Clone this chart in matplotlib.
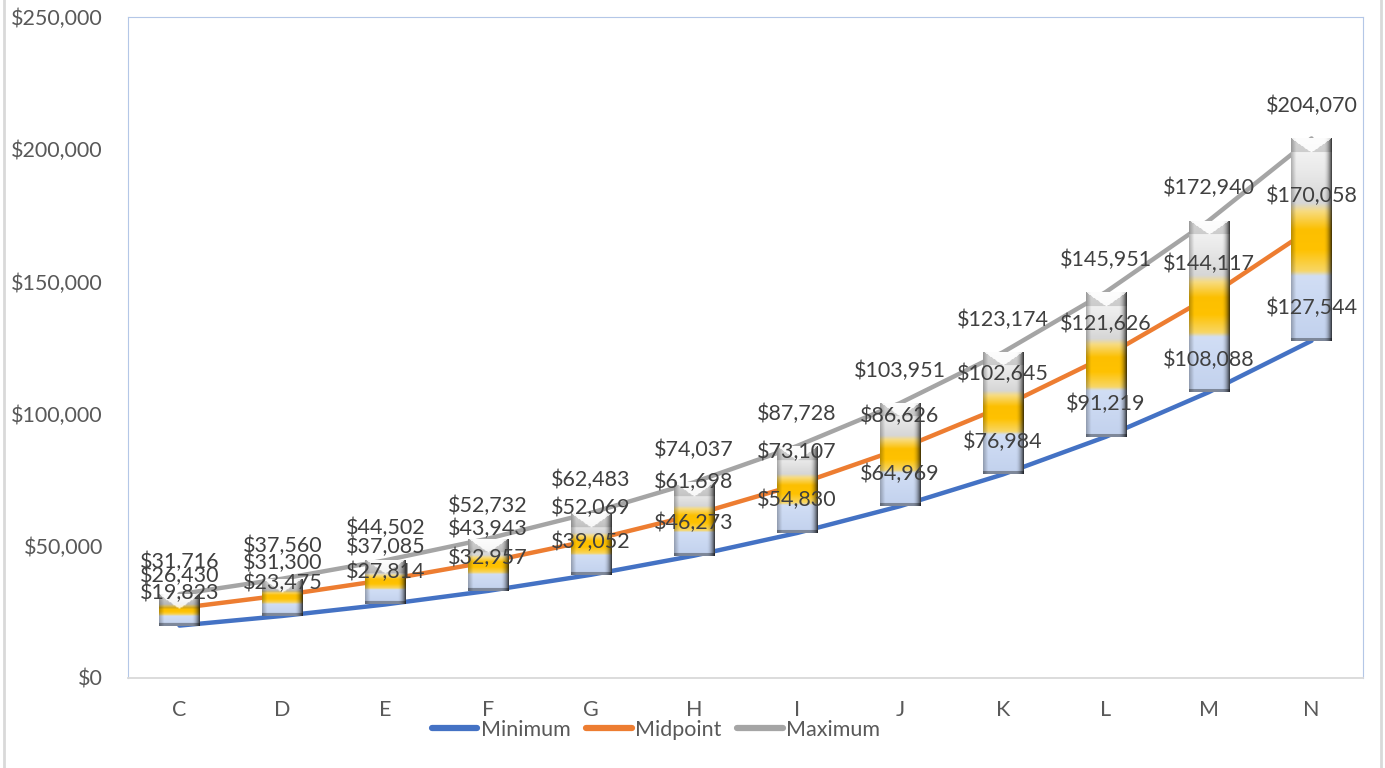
import numpy as np
import matplotlib.pyplot as plt
from matplotlib.lines import Line2D

plt.rcParams["font.family"] = ["Lato", "DejaVu Sans"]

grades = ["C", "D", "E", "F", "G", "H", "I", "J", "K", "L", "M", "N"]
minimum = [19823, 23475, 27814, 32957, 39052, 46273, 54830, 64969, 76984, 91219, 108088, 127544]
midpoint = [26430, 31300, 37085, 43943, 52069, 61698, 73107, 86626, 102645, 121626, 144117, 170058]
maximum = [31716, 37560, 44502, 52732, 62483, 74037, 87728, 103951, 123174, 145951, 172940, 204070]

series = [
    ("Minimum", minimum, "#4472c4"),
    ("Midpoint", midpoint, "#ed7d31"),
    ("Maximum", maximum, "#a5a5a5"),
]

# vertical colour stops for the bar fill (fraction of bar height, rgb)
stops = [
    (0.00, (0.76, 0.82, 0.93)),
    (0.32, (0.82, 0.87, 0.96)),
    (0.345, (0.97, 0.84, 0.40)),
    (0.45, (1.00, 0.76, 0.00)),
    (0.55, (0.99, 0.75, 0.00)),
    (0.64, (0.97, 0.86, 0.50)),
    (0.68, (0.84, 0.84, 0.84)),
    (0.85, (0.92, 0.92, 0.92)),
    (1.00, (0.97, 0.97, 0.97)),
]


def bar_image(h_px, w_px):
    rows = max(int(h_px), 4)
    cols = max(int(w_px), 4)
    f = np.linspace(1, 0, rows)  # top row first
    pos = [s[0] for s in stops]
    img = np.zeros((rows, cols, 3))
    for k in range(3):
        col = np.interp(f, pos, [s[1][k] for s in stops])
        img[:, :, k] = col[:, None]
    x = np.linspace(0, 1, cols)
    shade = 1 - 0.7 * np.clip((x - 0.8) / 0.2, 0, 1) ** 2 - 0.25 * np.clip((0.12 - x) / 0.12, 0, 1)
    img *= shade[None, :, None]
    # top bevel (V shape)
    b = min(14, rows // 2)
    u = np.abs(x - 0.5) / 0.5
    for r in range(b):
        top = r < b * (1 - u)
        img[r, top] = img[r, top] * 0.3 + 0.7
        img[r, ~top] *= 0.85
    img[-3:, :] *= 0.65
    return np.clip(img, 0, 1)


fig = plt.figure(figsize=(13.85, 7.68), dpi=100)
ax = fig.add_axes([128 / 1385, 90 / 768, 1235 / 1385, 661 / 768])
xs = np.arange(len(grades))
ax.set_xlim(-0.5, len(grades) - 0.5)
ax.set_ylim(0, 250000)

for name, vals, color in series:
    ax.plot(xs, vals, color=color, lw=3.2, solid_capstyle="round", label=name, zorder=2)

heights = [mx - mn for mn, mx in zip(minimum, maximum)]
bars = ax.bar(xs, heights, bottom=minimum, width=0.39, color="none", zorder=3)
fig.canvas.draw()
for patch in bars:
    x0, y0 = patch.get_x(), patch.get_y()
    w, h = patch.get_width(), patch.get_height()
    p0 = ax.transData.transform((x0, y0))
    p1 = ax.transData.transform((x0 + w, y0 + h))
    img = bar_image(p1[1] - p0[1], p1[0] - p0[0])
    im = ax.imshow(img, extent=(x0, x0 + w, y0, y0 + h), aspect="auto",
                   interpolation="bilinear", zorder=3)
    im.set_clip_path(patch)
ax.set_xlim(-0.5, len(grades) - 0.5)
ax.set_ylim(0, 250000)

for name, vals, color in series:
    for xi, v in zip(xs, vals):
        ax.annotate(f"${v:,}", (xi, v), xytext=(0, 23.5), textcoords="offset points",
                    ha="center", va="center", fontsize=15.5, color="#404040", zorder=5)

ax.set_xticks(xs)
ax.set_xticklabels(grades)
ticks = np.arange(0, 250001, 50000)
ax.set_yticks(ticks)
ax.set_yticklabels([f"${t:,}" for t in ticks])
ax.tick_params(axis="both", length=0, labelsize=15.5, colors="#595959")
ax.tick_params(axis="y", pad=18)
ax.tick_params(axis="x", pad=16)

for side in ["left", "right", "top"]:
    ax.spines[side].set_color("#b4c7e7")
    ax.spines[side].set_linewidth(0.8)
ax.spines["bottom"].set_color("#d9d9d9")
ax.spines["bottom"].set_linewidth(1.3)

leg = fig.legend(loc="center", bbox_to_anchor=(656 / 1385, 1 - 730 / 768), ncol=3,
                 frameon=False, fontsize=15.5, handlelength=2.1, handletextpad=0.15,
                 columnspacing=0.75, labelcolor="#595959")
for line in leg.get_lines():
    line.set_linewidth(4.5)

for xf in (4 / 1385, 1381 / 1385):
    fig.add_artist(Line2D([xf, xf], [0, 1], color="#d9d9d9", lw=2))

fig.savefig("out.png", dpi=100)
